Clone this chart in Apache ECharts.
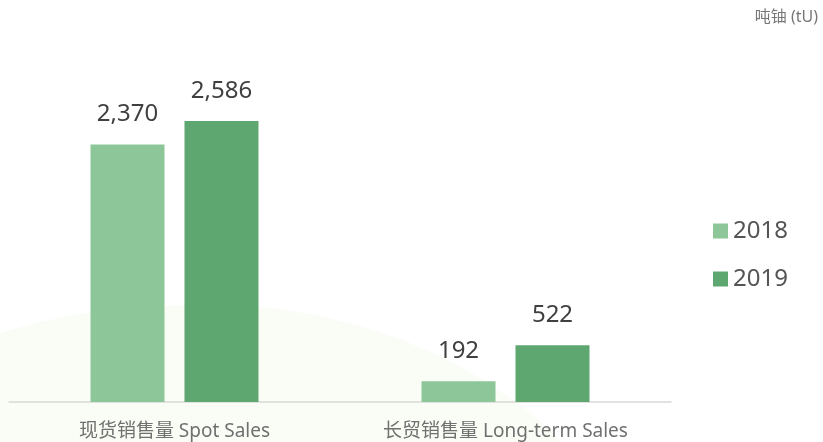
<!DOCTYPE html>
<html><head><meta charset="utf-8">
<script src="https://cdn.jsdelivr.net/npm/echarts@6/dist/echarts.min.js"></script>
<style>html,body{margin:0;padding:0;background:#fff}#c{width:823px;height:442px}</style>
</head><body><div id="c"></div>
<script>
const categories = ['现货销售量 Spot Sales', '长贸销售量 Long-term Sales'];
const values2018 = [2370, 192];
const values2019 = [2586, 522];
const seriesNames = ['2018', '2019'];
const unitLabel = '吨铀 (tU)';

const chart = echarts.init(document.getElementById('c'));
const fontFam = '"Noto Sans", "Noto Sans CJK SC", sans-serif';
const labelCfg = {
  show: true, position: 'top', distance: 18,
  fontSize: 24, color: '#404040', fontFamily: fontFam,
  formatter: p => p.value.toLocaleString('en-US')
};
const hill = [[0,333],[40,322],[80,314],[120,309],[160,306],[200,305],[240,306],[280,309],[320,316],[360,326],[400,339],[440,356],[480,378],[520,405],[550,430],[560,442],[0,442]];
chart.setOption({
  backgroundColor: '#ffffff',
  animation: false,
  graphic: [{
    type: 'polygon', silent: true, z: -10,
    shape: { points: hill },
    style: { fill: 'rgba(238,245,225,0.3)' }
  }, {
    type: 'text', right: 5, top: 9,
    style: { text: unitLabel, fontSize: 16, fill: '#777', fontFamily: fontFam }
  }],
  legend: {
    orient: 'vertical', left: 708, top: 214,
    itemWidth: 15, itemHeight: 15, itemGap: 24, icon: 'rect',
    textStyle: { fontSize: 24, color: '#555', fontFamily: fontFam },
    data: seriesNames
  },
  grid: { left: 9, right: 152, top: 76, bottom: 40, containLabel: false },
  xAxis: {
    type: 'category', data: categories,
    axisLine: { lineStyle: { color: '#d9d9d9', width: 1.5 } },
    axisTick: { show: false },
    axisLabel: { fontSize: 19, color: '#707070', margin: 20, fontFamily: fontFam }
  },
  yAxis: { type: 'value', min: 0, max: 3000, show: false, splitLine: { show: false } },
  series: [
    { name: seriesNames[0], type: 'bar', data: values2018, barWidth: 74, barGap: '27%',
      itemStyle: { color: '#8DC799' }, label: labelCfg },
    { name: seriesNames[1], type: 'bar', data: values2019, barWidth: 74,
      itemStyle: { color: '#5FA770' }, label: labelCfg }
  ]
});
</script></body></html>
